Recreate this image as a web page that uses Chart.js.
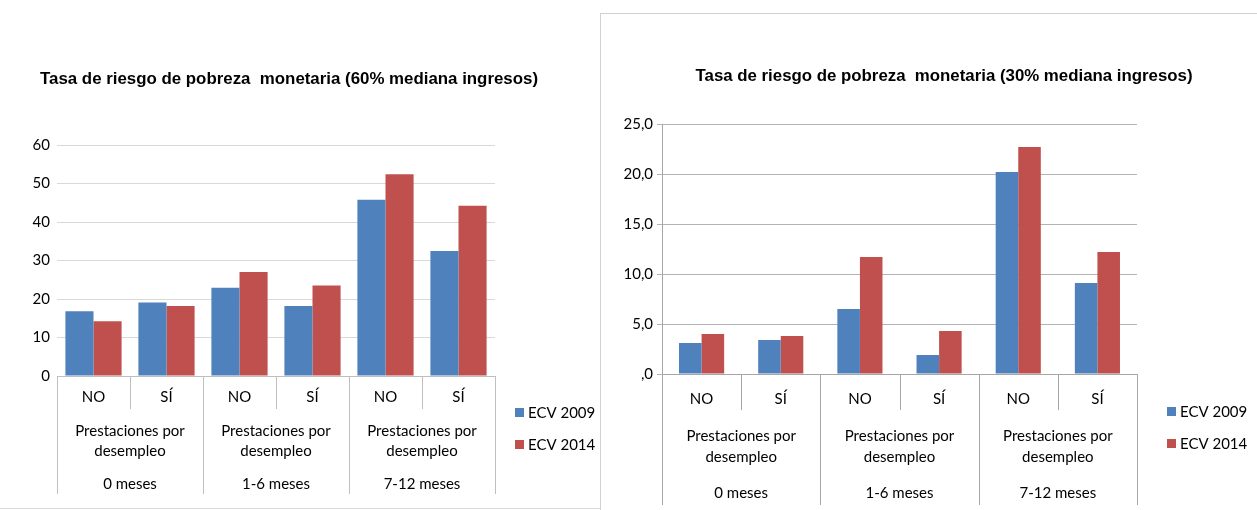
<!DOCTYPE html>
<html>
<head>
<meta charset="utf-8">
<script src="https://cdn.jsdelivr.net/npm/chart.js@4.4.1/dist/chart.umd.min.js"></script>
<style>
    body { margin: 0; width: 1257px; height: 510px; background: #fff; position: relative; overflow: hidden; }
    canvas { position: absolute; top: 0; }
    #leftChart { left: 0; }
    #rightChart { left: 600px; }
    .frame { position: absolute; pointer-events: none; }
    #leftFrame { left: 0; top: 0; width: 600px; height: 508px; border-bottom: 1px solid #dadada; }
    #rightFrame { left: 600px; top: 13px; width: 657px; height: 497px; border-left: 1px solid #d0d0d0; border-top: 1px solid #d0d0d0; }
</style>
</head>
<body>
<div class="frame" id="leftFrame"></div>
<div class="frame" id="rightFrame"></div>
<canvas id="leftChart" width="600" height="510"></canvas>
<canvas id="rightChart" width="657" height="510"></canvas>

<script>
// categories (three levels of the x axis)
const categories = ['NO', 'SÍ', 'NO', 'SÍ', 'NO', 'SÍ'];
const groupLabel = ['Prestaciones por', 'desempleo'];
const groups = ['0 meses', '1-6 meses', '7-12 meses'];
const seriesNames = ['ECV 2009', 'ECV 2014'];

// 60% mediana ingresos
const ecv2009_60 = [16.8, 19.1, 22.9, 18.2, 45.8, 32.5];
const ecv2014_60 = [14.2, 18.2, 27.0, 23.5, 52.4, 44.2];
// 30% mediana ingresos
const ecv2009_30 = [3.1, 3.4, 6.5, 1.9, 20.2, 9.1];
const ecv2014_30 = [4.0, 3.8, 11.7, 4.3, 22.7, 12.2];

// tick labels
const yTicksLeft = ['0', '10', '20', '30', '40', '50', '60'];
const yTicksRight = [',0', '5,0', '10,0', '15,0', '20,0', '25,0'];

const BLUE = '#4f81bd';
const RED = '#c0504d';
const FONT = 'Lato, "Open Sans", sans-serif';

// draws the nested category axis, the legend and the title
const excelLook = {
    id: 'excelLook',
    afterDraw(chart, args, o) {
        const ctx = chart.ctx;
        const x = chart.scales.x;
        const bottom = chart.chartArea.bottom;
        ctx.save();

        // separators between categories
        ctx.strokeStyle = o.lineColor;
        ctx.lineWidth = 1;
        for (let i = 0; i <= categories.length; i++) {
            const px = Math.round(x.getPixelForValue(i - 0.5)) + 0.5;
            const len = i % 2 === 0 ? o.groupEnd : o.innerEnd;
            ctx.beginPath();
            ctx.moveTo(px, bottom);
            ctx.lineTo(px, bottom + len);
            ctx.stroke();
        }

        ctx.fillStyle = '#000';
        ctx.font = '15px ' + FONT;
        ctx.textAlign = 'center';
        ctx.textBaseline = 'middle';
        categories.forEach((c, i) => {
            ctx.fillText(c, x.getPixelForValue(i), bottom + o.rows[0]);
        });
        groups.forEach((g, j) => {
            const cx = x.getPixelForValue(j * 2 + 0.5);
            ctx.fillText(groupLabel[0], cx, bottom + o.rows[1]);
            ctx.fillText(groupLabel[1], cx, bottom + o.rows[2]);
            ctx.fillText(g, cx, bottom + o.rows[3]);
        });

        // legend
        ctx.textAlign = 'left';
        chart.data.datasets.forEach((ds, k) => {
            ctx.fillStyle = ds.backgroundColor;
            ctx.fillRect(o.legendX, o.legendY[k] - 4, 9, 9);
            ctx.fillStyle = '#000';
            ctx.fillText(ds.label, o.legendX + 13, o.legendY[k] + 1);
        });

        // title, fitted to the width it has in the original
        ctx.font = 'bold 16px "Liberation Sans", Arial, sans-serif';
        ctx.textAlign = 'center';
        const w = ctx.measureText(o.title).width;
        ctx.translate(o.titleX, o.titleY);
        ctx.scale(o.titleWidth / w, 1);
        ctx.fillText(o.title, 0, 0);
        ctx.restore();
    }
};

function makeChart(id, cfg) {
    return new Chart(document.getElementById(id), {
        type: 'bar',
        data: {
            labels: categories,
            datasets: [
                { label: seriesNames[0], data: cfg.a, backgroundColor: BLUE, borderWidth: 0 },
                { label: seriesNames[1], data: cfg.b, backgroundColor: RED, borderWidth: 0 }
            ]
        },
        options: {
            responsive: false,
            animation: false,
            categoryPercentage: cfg.catPct,
            barPercentage: 1,
            layout: { padding: { left: 0, top: cfg.top, right: cfg.right, bottom: 0 } },
            plugins: {
                legend: { display: false },
                title: { display: false },
                tooltip: { enabled: false },
                excelLook: cfg.look
            },
            scales: {
                x: {
                    grid: { display: false },
                    border: { display: true, color: cfg.look.lineColor },
                    ticks: { display: false },
                    afterFit(scale) { scale.height = 510 - cfg.bottom; }
                },
                y: {
                    min: 0,
                    max: cfg.max,
                    grid: {
                        color: cfg.gridColor,
                        drawTicks: cfg.ticks,
                        tickLength: 5
                    },
                    border: { display: cfg.ticks, color: cfg.look.lineColor },
                    ticks: {
                        stepSize: cfg.step,
                        padding: cfg.ticks ? 4 : 7,
                        color: '#000',
                        font: { family: FONT, size: 15 },
                        callback: (v, i) => cfg.labels[i]
                    },
                    afterFit(scale) { scale.width = cfg.left; }
                }
            }
        },
        plugins: [excelLook]
    });
}

makeChart('leftChart', {
    a: ecv2009_60, b: ecv2014_60, labels: yTicksLeft,
    max: 60, step: 10, catPct: 0.77,
    left: 57, right: 105, top: 145, bottom: 376,
    gridColor: '#d9d9d9', ticks: false,
    look: {
        lineColor: '#bfbfbf', innerEnd: 33, groupEnd: 118, rows: [21, 55, 75, 108],
        legendX: 515, legendY: [412, 444],
        title: 'Tasa de riesgo de pobreza  monetaria (60% mediana ingresos)',
        titleX: 289, titleY: 80, titleWidth: 498
    }
});

makeChart('rightChart', {
    a: ecv2009_30, b: ecv2014_30, labels: yTicksRight,
    max: 25, step: 5, catPct: 0.57,
    left: 62, right: 120, top: 124, bottom: 374,
    gridColor: '#b4b4b4', ticks: true,
    look: {
        lineColor: '#a6a6a6', innerEnd: 36, groupEnd: 131, rows: [25, 62, 83, 119],
        legendX: 567, legendY: [411, 443],
        title: 'Tasa de riesgo de pobreza  monetaria (30% mediana ingresos)',
        titleX: 344, titleY: 77, titleWidth: 497
    }
});
</script>
</body>
</html>
